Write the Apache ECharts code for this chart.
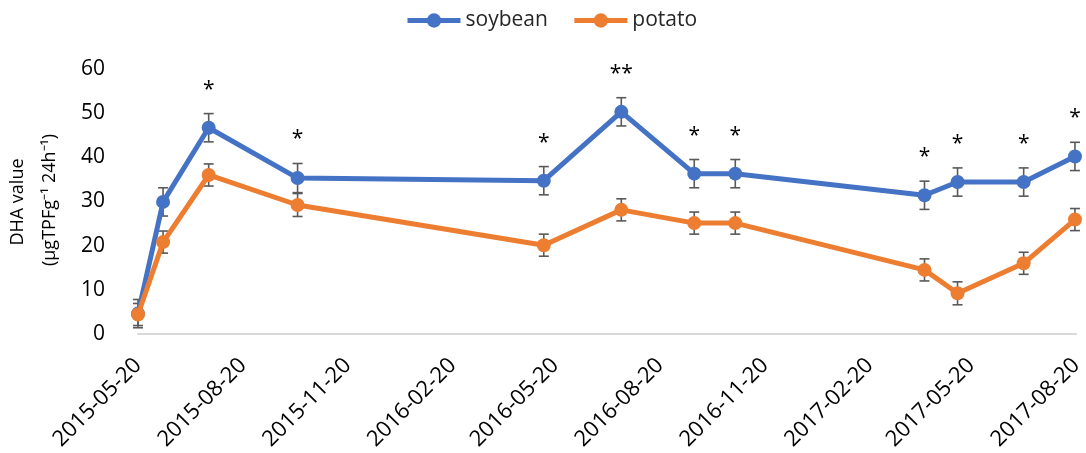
<!DOCTYPE html>
<html>
<head>
<meta charset="utf-8">
<script src="https://cdn.jsdelivr.net/npm/echarts@6/dist/echarts.min.js"></script>
<style>
  html, body { margin: 0; padding: 0; background: #fff; }
  #chart { width: 1086px; height: 453px; }
</style>
</head>
<body>
<div id="chart"></div>
<script>
// Sampling dates
const sampleDates = ['2015-05-20', '2015-06-11', '2015-07-21', '2015-10-07', '2016-05-10', '2016-07-17',
                     '2016-09-19', '2016-10-25', '2017-04-09', '2017-05-08', '2017-07-05', '2017-08-19'];
// DHA values (μgTPFg⁻¹ 24h⁻¹)
const soybean = [4.6, 29.9, 46.7, 35.3, 34.7, 50.3, 36.3, 36.3, 31.4, 34.4, 34.4, 40.2];
const potato  = [4.4, 20.8, 36.0, 29.2, 20.1, 28.1, 25.1, 25.1, 14.5, 9.2, 16.0, 25.9];
// Error bar half-lengths
const soybeanErr = [3.2, 3.2, 3.2, 3.3, 3.2, 3.2, 3.2, 3.2, 3.2, 3.2, 3.2, 3.2];
const potatoErr  = [2.5, 2.5, 2.5, 2.6, 2.5, 2.5, 2.5, 2.5, 2.5, 2.6, 2.5, 2.5];
// Significance marks
const significance = ['', '', '*', '*', '*', '**', '*', '*', '*', '*', '*', '*'];
// X tick labels
const tickDates = ['2015-05-20', '2015-08-20', '2015-11-20', '2016-02-20', '2016-05-20',
                   '2016-08-20', '2016-11-20', '2017-02-20', '2017-05-20', '2017-08-20'];
const yTicks = [0, 10, 20, 30, 40, 50, 60];

const FONT = 'Open Sans';
const BLUE = '#4472C4';
const ORANGE = '#ED7D31';

const toTs = s => Date.UTC(+s.slice(0, 4), +s.slice(5, 7) - 1, +s.slice(8, 10));
const pad = n => (n < 10 ? '0' : '') + n;
const fmtDate = ts => {
  const d = new Date(ts);
  return d.getUTCFullYear() + '-' + pad(d.getUTCMonth() + 1) + '-' + pad(d.getUTCDate());
};

const pts = (vals) => sampleDates.map((d, i) => [toTs(d), vals[i]]);

function errorSeries(vals, errs, marks) {
  return {
    type: 'custom',
    z: 1,
    silent: true,
    data: sampleDates.map((d, i) => [toTs(d), vals[i] - errs[i], vals[i] + errs[i], i]),
    encode: { x: 0, y: [1, 2] },
    renderItem(params, api) {
      const lo = api.coord([api.value(0), api.value(1)]);
      const hi = api.coord([api.value(0), api.value(2)]);
      const cap = 5;
      const style = { stroke: '#595959', lineWidth: 1.6 };
      const children = [
        { type: 'line', shape: { x1: lo[0], y1: lo[1], x2: hi[0], y2: hi[1] }, style },
        { type: 'line', shape: { x1: lo[0] - cap, y1: lo[1], x2: lo[0] + cap, y2: lo[1] }, style },
        { type: 'line', shape: { x1: hi[0] - cap, y1: hi[1], x2: hi[0] + cap, y2: hi[1] }, style }
      ];
      const mark = marks ? marks[api.value(3)] : '';
      if (mark) {
        children.push({
          type: 'text',
          style: {
            text: mark, x: hi[0], y: hi[1] - 24,
            fill: '#000', font: '21px "' + FONT + '"',
            align: 'center', verticalAlign: 'middle'
          }
        });
      }
      return { type: 'group', children };
    }
  };
}

const chart = echarts.init(document.getElementById('chart'), null, { renderer: 'canvas' });

chart.setOption({
  animation: false,
  textStyle: { fontFamily: FONT },
  legend: {
    top: 5,
    left: 400,
    itemWidth: 53,
    itemHeight: 18,
    itemGap: 24,
    textStyle: { fontSize: 21, color: '#262626', fontFamily: FONT },
    lineStyle: { width: 5 },
    data: ['soybean', 'potato']
  },
  grid: { left: 138, right: 8, top: 69, bottom: 118, containLabel: false },
  xAxis: {
    type: 'value',
    min: toTs(tickDates[0]),
    max: toTs(tickDates[tickDates.length - 1]),
    splitLine: { show: false },
    axisLine: { show: true, lineStyle: { color: '#D9D9D9', width: 2 } },
    axisTick: { show: false },
    axisLabel: {
      customValues: tickDates.map(toTs),
      formatter: v => fmtDate(v),
      rotate: 45,
      margin: 28,
      fontSize: 22,
      color: '#000',
      fontFamily: FONT,
      hideOverlap: false,
      showMinLabel: true,
      showMaxLabel: true
    }
  },
  yAxis: {
    type: 'value',
    min: yTicks[0],
    max: yTicks[yTicks.length - 1],
    interval: 10,
    splitLine: { show: false },
    axisLine: { show: false },
    axisTick: { show: false },
    axisLabel: { fontSize: 21, color: '#000', margin: 33, fontFamily: FONT }
  },
  graphic: [
    {
      type: 'text', x: 18, y: 202, rotation: Math.PI / 2,
      style: { text: 'DHA value', font: '18px "' + FONT + '"', fill: '#000', align: 'center', verticalAlign: 'middle' }
    },
    {
      type: 'text', x: 50, y: 200, rotation: Math.PI / 2,
      style: { text: '(μgTPFg⁻¹ 24h⁻¹)', font: '18px "' + FONT + '"', fill: '#000', align: 'center', verticalAlign: 'middle' }
    }
  ],
  series: [
    errorSeries(soybean, soybeanErr, significance),
    errorSeries(potato, potatoErr, null),
    {
      name: 'soybean', type: 'line', z: 3,
      data: pts(soybean),
      symbol: 'circle', symbolSize: 14,
      lineStyle: { color: BLUE, width: 5 },
      itemStyle: { color: BLUE, borderWidth: 0 }
    },
    {
      name: 'potato', type: 'line', z: 4,
      data: pts(potato),
      symbol: 'circle', symbolSize: 14,
      lineStyle: { color: ORANGE, width: 5 },
      itemStyle: { color: ORANGE, borderWidth: 0 }
    }
  ]
});
</script>
</body>
</html>
